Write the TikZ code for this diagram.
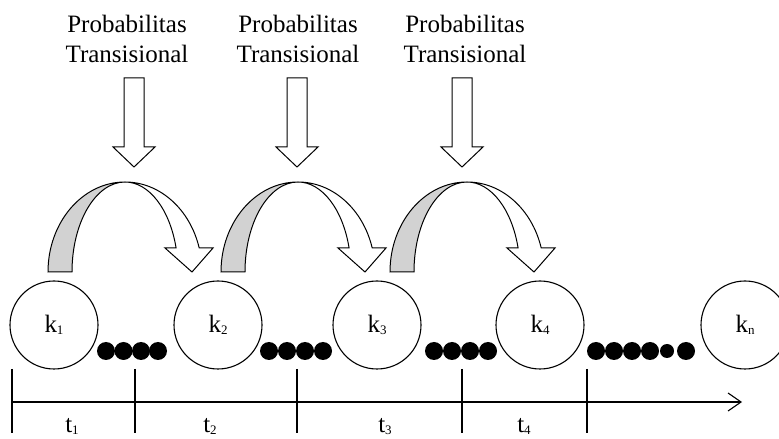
\documentclass[tikz,border=0pt]{standalone}
\usepackage{fontspec}
\setmainfont{Liberation Serif}
\usetikzlibrary{arrows.meta}
\newcommand\mysub[1]{\raisebox{-2pt}{\fontsize{13}{13}\selectfont #1}}
\begin{document}
\begin{tikzpicture}[x=1pt,y=1pt,
  line/.style={line width=1.1pt, black},
  state/.style={circle, draw, line width=1.1pt, minimum size=88pt, inner sep=0pt, font=\fontsize{25}{25}\selectfont},
  lbl/.style={font=\fontsize{25}{30}\selectfont, align=center, inner sep=0pt},
  tlbl/.style={font=\fontsize{25}{25}\selectfont, inner sep=0pt, anchor=base},
  dot/.style={circle, fill=black, inner sep=0pt, minimum size=18pt},
  sdot/.style={circle, fill=black, inner sep=0pt, minimum size=14pt},
  blockarrow/.style={draw, line width=1pt, fill=white, line join=miter},
  backface/.style={draw, line width=1pt, fill=gray!35},
]
\useasboundingbox (0,0) rectangle (779,439);
\clip (0,0) rectangle (779,439);

% texts
\foreach \cx/\n in {127/1,298/2,465/3}{
  \node[lbl] (p\n) at (\cx,400) {Probabilitas\\Transisional};
}

% down block arrows
\foreach \cx in {134,297,462}{
  \draw[blockarrow] (\cx-10,361) -- (\cx+10,361) -- (\cx+10,292) -- (\cx+21,292)
     -- (\cx,272) -- (\cx-21,292) -- (\cx-10,292) -- cycle;
}

% curved arrows
\foreach \cx in {125,298,467}{
  \draw[backface] (\cx-77,167) arc[start angle=180, end angle=90, x radius=77pt, y radius=90pt]
     arc[start angle=90, end angle=180, x radius=53pt, y radius=90pt] -- cycle;
  \draw[blockarrow] (\cx,257) arc[start angle=90, end angle=15.47, x radius=77pt, y radius=90pt]
     -- (\cx+88,191) -- (\cx+67,167) -- (\cx+40,191) -- (\cx+51.1,191)
     arc[start angle=15.47, end angle=90, x radius=53pt, y radius=90pt] -- cycle;
}

% states
\node[state] (k1) at (54,114) {k\mysub{1}};
\node[state] (k2) at (218,114) {k\mysub{2}};
\node[state] (k3) at (377,114) {k\mysub{3}};
\node[state] (k4) at (540,114) {k\mysub{4}};
\node[state] (kn) at (745,114) {k\mysub{n}};

% dots
\foreach \x [count=\i] in {106,123.5,141,158, 269,287,305,323, 434,452,470,488, 596,614,632,650,686}{
  \node[dot] (d\i) at (\x,88) {};
}
\node[sdot] (d18) at (667,88) {};

% timeline
\coordinate (ts) at (12,37);
\coordinate (te) at (742,37);
\draw[line, -{Straight Barb[length=13pt,width=18pt,line width=1.1pt]}] (ts) -- (te);
\foreach \x [count=\i] in {12,135,297,462,587}{
  \coordinate (ta\i) at (\x,70);
  \coordinate (tb\i) at (\x,6);
  \draw[line] (ta\i) -- (tb\i);
}
\node[tlbl] (t1) at (72,6) {t\mysub{1}};
\node[tlbl] (t2) at (210,6) {t\mysub{2}};
\node[tlbl] (t3) at (385,6) {t\mysub{3}};
\node[tlbl] (t4) at (524,6) {t\mysub{4}};
\end{tikzpicture}
\end{document}
